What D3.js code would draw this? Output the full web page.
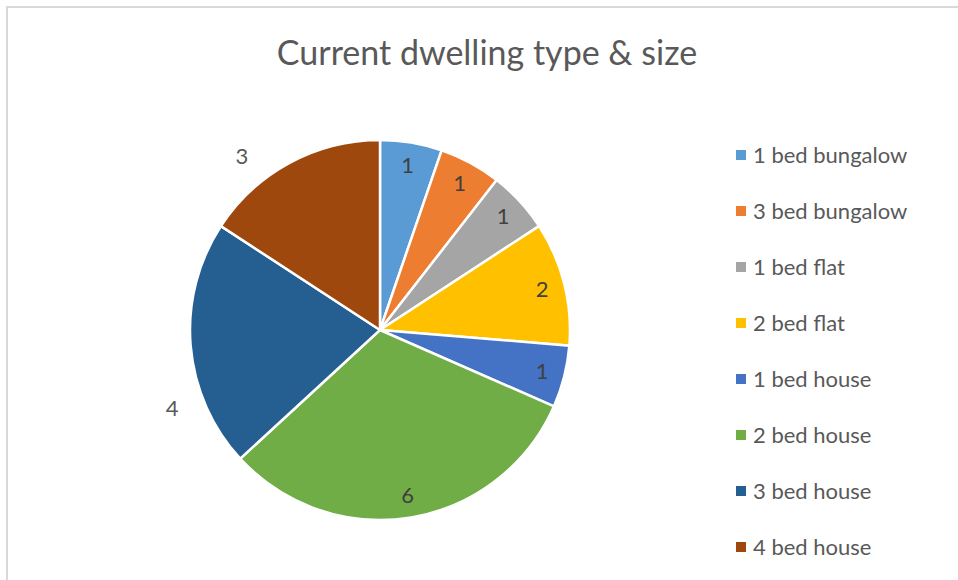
<!DOCTYPE html>
<html>
<head>
<meta charset="utf-8">
<title>Current dwelling type & size</title>
<style>
  body { margin: 0; background: #fff; }
  svg { display: block; }
  .slices path { stroke: #fff; stroke-width: 2.5px; }
  text { font-family: Lato, "Open Sans", sans-serif; }
</style>
</head>
<body>
<svg width="958" height="580"></svg>
<script src="https://d3js.org/d3.v7.min.js"></script>
<script>
// data
var categories = ["1 bed bungalow", "3 bed bungalow", "1 bed flat", "2 bed flat",
                  "1 bed house", "2 bed house", "3 bed house", "4 bed house"];
var counts = [1, 1, 1, 2, 1, 6, 4, 3];
var colours = ["#5B9BD5", "#ED7D31", "#A5A5A5", "#FFC000",
               "#4472C4", "#70AD47", "#255E91", "#9E480E"];

var svg = d3.select("svg");

// chart area frame (only top/left edges visible in the shot)
svg.append("path")
    .attr("d", "M7,580V7H958")
    .attr("fill", "none")
    .attr("stroke", "#d9d9d9")
    .attr("stroke-width", 2);

svg.append("text")
    .attr("x", 487)
    .attr("y", 65)
    .attr("text-anchor", "middle")
    .attr("fill", "#595959")
    .style("font-size", "34px")
    .text("Current dwelling type & size");

var cx = 380, cy = 330, radius = 190;

var color = d3.scaleOrdinal().domain(categories).range(colours);

var pie = d3.pie().sort(null).value(function(d) { return d.value; });
var rows = categories.map(function(c, i) { return { name: c, value: counts[i] }; });
var arcs = pie(rows);

var arc = d3.arc().innerRadius(0).outerRadius(radius);
var labelArc = d3.arc().innerRadius(radius * 0.88).outerRadius(radius * 0.88);

var g = svg.append("g").attr("transform", "translate(" + cx + "," + cy + ")");

g.append("g").attr("class", "slices")
  .selectAll("path")
  .data(arcs)
  .enter().append("path")
    .attr("d", arc)
    .attr("fill", function(d) { return color(d.data.name); });

// Excel "best fit": small slices inside, the two big left ones pushed outside
var outside = { "3 bed house": -16, "4 bed house": -10 };

g.append("g").attr("class", "labels")
  .selectAll("text")
  .data(arcs)
  .enter().append("text")
    .attr("transform", function(d) {
      var shift = outside[d.data.name];
      if (shift === undefined) {
        var p = labelArc.centroid(d);
        return "translate(" + p[0] + "," + p[1] + ")";
      }
      var a = (d.startAngle + d.endAngle) / 2 + shift * Math.PI / 180;
      var r = radius * 1.17;
      return "translate(" + (Math.sin(a) * r) + "," + (-Math.cos(a) * r) + ")";
    })
    .attr("dy", "0.35em")
    .attr("text-anchor", "middle")
    .attr("fill", function(d) { return outside[d.data.name] === undefined ? "#404040" : "#595959"; })
    .style("font-size", "22px")
    .text(function(d) { return d.data.value; });

// legend
var legendY = d3.scalePoint().domain(categories).range([155, 547]);

var legend = svg.append("g").attr("class", "legend")
  .selectAll("g")
  .data(categories)
  .enter().append("g")
    .attr("transform", function(d) { return "translate(736," + legendY(d) + ")"; });

legend.append("rect")
    .attr("x", 0)
    .attr("y", -5)
    .attr("width", 10)
    .attr("height", 10)
    .attr("fill", function(d) { return color(d); });

legend.append("text")
    .attr("x", 17)
    .attr("dy", "0.35em")
    .attr("fill", "#595959")
    .style("font-size", "22px")
    .text(function(d) { return d; });
</script>
</body>
</html>
